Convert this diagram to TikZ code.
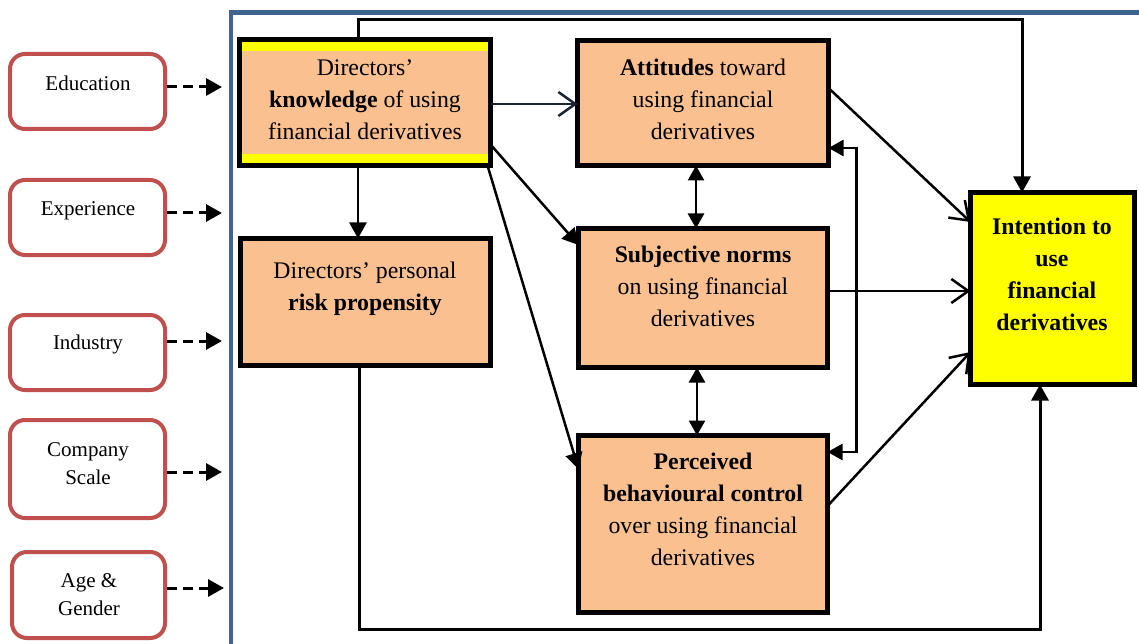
\documentclass[tikz,border=0pt]{standalone}
\usepackage{fontspec}
\setmainfont{Liberation Serif}
\usetikzlibrary{arrows.meta,calc}
\definecolor{frameblue}{HTML}{41648F}
\definecolor{peach}{HTML}{FAC090}
\definecolor{brick}{HTML}{C0504D}
\definecolor{navy}{HTML}{1C2433}
\definecolor{hiyellow}{HTML}{FFFF00}
\begin{document}
\begin{tikzpicture}[x=1pt,y=-1pt,
  construct/.style={draw=black, line width=5pt, fill=peach, inner sep=0pt, outer sep=0pt},
  outcome/.style={construct, fill=hiyellow},
  factor/.style={draw=brick, line width=4pt, rounded corners=15pt, fill=white, inner sep=0pt},
  maintxt/.style={align=center, inner sep=0pt, font=\fontsize{23.8}{32}\selectfont},
  factortxt/.style={align=center, inner sep=0pt, font=\fontsize{21}{28}\selectfont},
  conn/.style={draw=black, line width=2.5pt},
  solidtip/.style={-{Triangle[length=16pt,width=17pt]}},
  bothtips/.style={{Triangle[length=15pt,width=16pt]}-{Triangle[length=15pt,width=16pt]}},
  opentip/.style={-{Straight Barb[length=17pt,width=24pt,line width=2.5pt]}},
  ctrl/.style={draw=black, line width=3pt, dash pattern=on 10pt off 6pt,
    -{Triangle[length=16pt,width=17pt]}}]
\useasboundingbox (0,0) rectangle (1139,644);
\fill[white] (0,0) rectangle (1139,644);

% outer frame around the model
\draw[frameblue, line width=4.5pt] (231,660) -- (231,12.5) -- (1160,12.5);

% control variables
\node[factor, minimum width=155pt, minimum height=75pt] (edu) at (87.5,91.5) {};
\node[factor, minimum width=155pt, minimum height=75pt] (exp) at (87.5,217.5) {};
\node[factor, minimum width=155pt, minimum height=75pt] (ind) at (87.5,352.5) {};
\node[factor, minimum width=155pt, minimum height=98pt] (scale) at (87.5,469) {};
\node[factor, minimum width=153pt, minimum height=86pt] (age) at (88.5,595) {};
\node[factortxt] (edu-t) at (88,83) {Education};
\node[factortxt] (exp-t) at (88,211) {Experience};
\node[factortxt] (ind-t) at (88,344) {Industry};
\node[factortxt] (scale-t) at (88,464) {Company\\Scale};
\node[factortxt] (age-t) at (89,594.5) {Age \&\\Gender};

\coordinate (f1) at (222,87);
\coordinate (f2) at (222,213);
\coordinate (f3) at (222,341);
\coordinate (f4) at (222,472);
\coordinate (f5) at (224,588);
\draw[ctrl] (edu.east |- f1) -- (f1);
\draw[ctrl] (exp.east |- f2) -- (f2);
\draw[ctrl] (ind.east |- f3) -- (f3);
\draw[ctrl] (scale.east |- f4) -- (f4);
\draw[ctrl] (age.east |- f5) -- (f5);

% constructs
\node[construct, minimum width=251pt, minimum height=126pt] (kn) at (365,102.5) {};
\fill[hiyellow] (242,42) rectangle (488,51);
\fill[hiyellow] (242,154) rectangle (488,163);
\node[construct, minimum width=250pt, minimum height=127pt] (risk) at (365.5,302) {};
\node[construct, minimum width=251pt, minimum height=125pt] (att) at (703,103) {};
\node[construct, minimum width=249pt, minimum height=139pt] (sub) at (703,298) {};
\node[construct, minimum width=249pt, minimum height=177pt] (pbc) at (703,524) {};
\node[outcome, minimum width=164pt, minimum height=192pt] (int) at (1052.5,288.5) {};

\node[maintxt] (kn-t) at (365,99.5) {Directors’\\\textbf{knowledge} of using\\financial derivatives};
\node[maintxt] (risk-t) at (365,288.5) {Directors’ personal\\\textbf{risk propensity}};
\node[maintxt] (att-t) at (703,99.5) {\textbf{Attitudes} toward\\using financial\\derivatives};
\node[maintxt] (sub-t) at (703,286.5) {\textbf{Subjective norms}\\on using financial\\derivatives};
\node[maintxt] (pbc-t) at (703,509.75) {\textbf{Perceived}\\\textbf{behavioural control}\\over using financial\\derivatives};
\node[maintxt] (int-t) at (1052,274.75) {\textbf{Intention to}\\\textbf{use}\\\textbf{financial}\\\textbf{derivatives}};

% paths between constructs
\coordinate (topR) at (1022,20);
\coordinate (botR) at (1040,629);
\draw[conn, line width=3pt, solidtip] ($(kn.north)+(-7,0)$) |- (topR) -- (topR |- int.north);
\draw[conn, draw=navy, opentip] ($(kn.east)+(0,1.5)$) -- ($(att.west)+(0,1)$);
\draw[conn, solidtip] ($(kn.south)+(-7,0)$) -- ($(risk.north)+(-7.5,0)$);
\draw[conn, solidtip] ($(kn.east)+(0,42)$) -- ($(sub.west)+(0,-53)$);
\draw[conn, solidtip] ($(kn.south east)+(-3,0)$) -- ($(pbc.west)+(0,-55)$);
\draw[conn, bothtips] ($(att.south)+(-7,0)$) -- ($(sub.north)+(-7,0)$);
\draw[conn, bothtips] ($(sub.south)+(-6,0)$) -- ($(pbc.north)+(-6,0)$);
\draw[conn, bothtips] ($(att.east)+(0,45)$) -- ++(28,0) |- ($(pbc.east)+(0,-72)$);
\draw[conn, opentip] ($(att.east)+(0,-15)$) -- ($(int.west)+(0,-66.5)$);
\draw[conn, opentip] ($(sub.east)+(0,-7)$) -- ($(int.west)+(0,2.5)$);
\draw[conn, opentip] ($(pbc.east)+(0,-18)$) -- ($(int.west)+(0,63.5)$);
\draw[conn, line width=3pt, solidtip] ($(risk.south)+(-6.5,0)$) |- (botR) -- (botR |- int.south);
\end{tikzpicture}
\end{document}
